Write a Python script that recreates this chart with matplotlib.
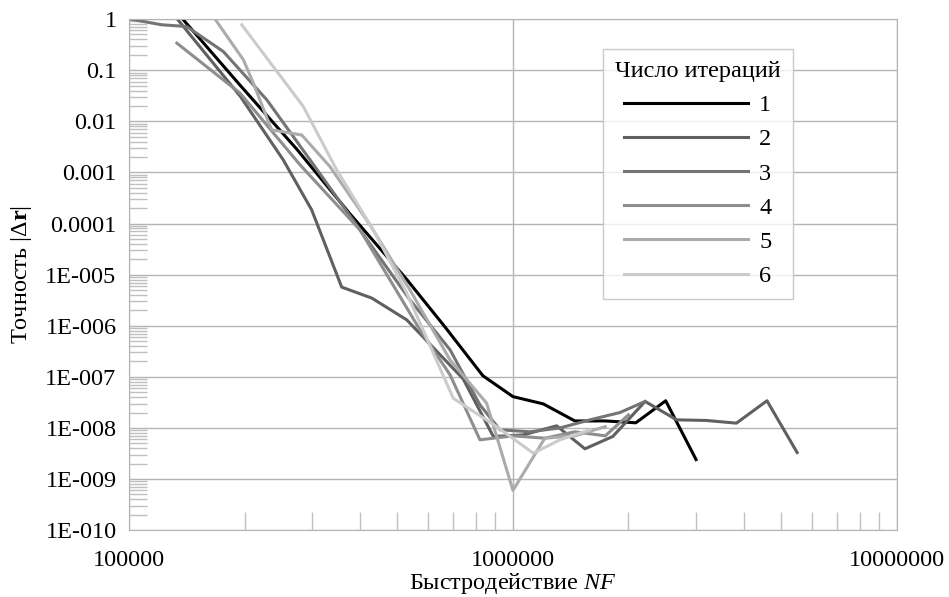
import numpy as np
import matplotlib.pyplot as plt
from matplotlib.ticker import FixedLocator, NullFormatter

plt.rcParams['font.family'] = ['Liberation Serif', 'DejaVu Serif']
plt.rcParams['mathtext.fontset'] = 'custom'
plt.rcParams['mathtext.rm'] = 'Liberation Serif'
plt.rcParams['mathtext.it'] = 'Liberation Serif:italic'
plt.rcParams['mathtext.bf'] = 'Liberation Serif:bold'

# data (NF, |dr|)
x1 = [1.38e5, 1.95e5, 2.74e5, 3.76e5, 5.3e5, 6.65e5, 8.35e5, 1.0e6, 1.2e6, 1.45e6, 1.74e6, 2.09e6, 2.5e6, 3.0e6]
y1 = [1.0, 0.05, 2.8e-3, 1.55e-4, 7.9e-6, 9.5e-7, 1.05e-7, 4.1e-8, 2.95e-8, 1.37e-8, 1.37e-8, 1.26e-8, 3.4e-8, 2.4e-9]

x2 = [1.336e5, 1.95e5, 2.52e5, 2.99e5, 3.58e5, 4.29e5, 5.29e5, 7.42e5, 8.89e5, 1.062e6, 1.30e6, 1.54e6, 1.82e6,
      2.21e6, 2.67e6, 3.19e6, 3.82e6, 4.59e6, 5.5e6]
y2 = [1.0, 0.0306, 1.77e-3, 1.85e-4, 5.7e-6, 3.47e-6, 1.3e-6, 9.1e-8, 6.8e-9, 7.3e-9, 1.1e-8, 3.9e-9, 6.8e-9,
      3.3e-8, 1.44e-8, 1.4e-8, 1.24e-8, 3.4e-8, 3.3e-9]

x3 = [1.006e5, 1.217e5, 1.413e5, 1.76e5, 2.284e5, 2.96e5, 3.996e5, 5.393e5, 6.855e5, 8.204e5, 9.25e5, 1.107e6,
      1.326e6, 1.587e6, 1.9e6, 2.21e6]
y3 = [1.0, 0.774, 0.716, 0.232, 0.0264, 1.77e-3, 7.5e-5, 3.2e-6, 3.4e-7, 2.83e-8, 9.2e-9, 8.4e-9,
      1.0e-8, 1.44e-8, 2.0e-8, 3.3e-8]

x4 = [1.332e5, 1.945e5, 2.788e5, 3.996e5, 5.725e5, 6.855e5, 8.204e5, 1.0e6, 1.211e6, 1.45e6, 1.74e6, 2.0e6]
y4 = [0.339, 0.0357, 1.41e-3, 7.5e-5, 8.3e-7, 1.1e-7, 5.85e-9, 7.0e-9, 6.3e-9, 8.4e-9, 7.0e-9, 1.8e-8]

x5 = [1.675e5, 1.985e5, 2.107e5, 2.352e5, 2.817e5, 3.337e5, 4.243e5, 5.393e5, 6.855e5, 8.54e5, 1.0e6, 1.211e6,
      1.45e6, 1.74e6]
y5 = [1.0, 0.16, 0.056, 6.8e-3, 5.4e-3, 1.3e-3, 9.4e-5, 5.0e-6, 2.15e-7, 3.05e-8, 6.0e-10, 6.3e-9,
      7.0e-9, 1.06e-8]

x6 = [1.966e5, 2.844e5, 3.474e5, 4.328e5, 5.287e5, 6.992e5, 9.07e5, 1.13e6, 1.326e6, 1.587e6]
y6 = [0.774, 0.0195, 1.12e-3, 7.5e-5, 4.4e-6, 3.8e-8, 1.06e-8, 3.2e-9, 5.85e-9, 9.2e-9]

series = [(x1, y1, '1'), (x2, y2, '2'), (x3, y3, '3'), (x4, y4, '4'), (x5, y5, '5'), (x6, y6, '6')]
colors = ['#000000', '#606060', '#747474', '#8e8e8e', '#ababab', '#cbcbcb']

y_ticks = [1, 0.1, 0.01, 0.001, 0.0001, 1e-5, 1e-6, 1e-7, 1e-8, 1e-9, 1e-10]
y_labels = ['1', '0.1', '0.01', '0.001', '0.0001', '1E-005', '1E-006', '1E-007', '1E-008', '1E-009', '1E-010']
x_ticks = [1e5, 1e6, 1e7]
x_labels = ['100000', '1000000', '10000000']

fig = plt.figure(figsize=(9.49, 5.97), dpi=100)
ax = fig.add_axes([0.136, 0.112, 0.809, 0.856])

for (xs, ys, name), c in zip(series, colors):
    ax.plot(xs, ys, color=c, lw=2.2, label=name, solid_joinstyle='round')

ax.set_xscale('log')
ax.set_yscale('log')
ax.set_xlim(1e5, 1e7)
ax.set_ylim(1e-10, 1)

ax.set_yticks(y_ticks)
ax.set_yticklabels(y_labels)
ax.set_xticks(x_ticks)
ax.set_xticklabels(x_labels)
ax.yaxis.set_minor_locator(FixedLocator([m * 10.0 ** e for e in range(-10, 0) for m in range(2, 10)]))
ax.xaxis.set_minor_locator(FixedLocator([m * 10.0 ** e for e in range(5, 7) for m in range(2, 10)]))
ax.yaxis.set_minor_formatter(NullFormatter())
ax.xaxis.set_minor_formatter(NullFormatter())

ax.tick_params(which='major', length=0, labelsize=17.5, pad=9)
ax.tick_params(axis='x', which='major', pad=14)
ax.tick_params(which='minor', direction='in', length=13, width=1, color='#c0c0c0')

ax.grid(True, which='major', color='#b4b4b4', lw=1)
for s in ax.spines.values():
    s.set_color('#b4b4b4')
ax.set_axisbelow(True)

ax.set_xlabel(r'Быстродействие $\mathit{NF}$', fontsize=17.5, labelpad=0)
ax.set_ylabel(r'Точность $|\Delta\mathbf{r}|$', fontsize=17.5, labelpad=8)

leg = ax.legend(title='Число итераций', loc='upper left', bbox_to_anchor=(0.6354, 0.918),
                bbox_transform=fig.transFigure, borderaxespad=0, fontsize=17.5, title_fontsize=17.5,
                frameon=True, fancybox=False, edgecolor='#bfbfbf', handlelength=5.1,
                handletextpad=0.45, labelspacing=0.5, borderpad=0.5)
leg.get_frame().set_linewidth(1)

fig.savefig('out.png', dpi=100)
